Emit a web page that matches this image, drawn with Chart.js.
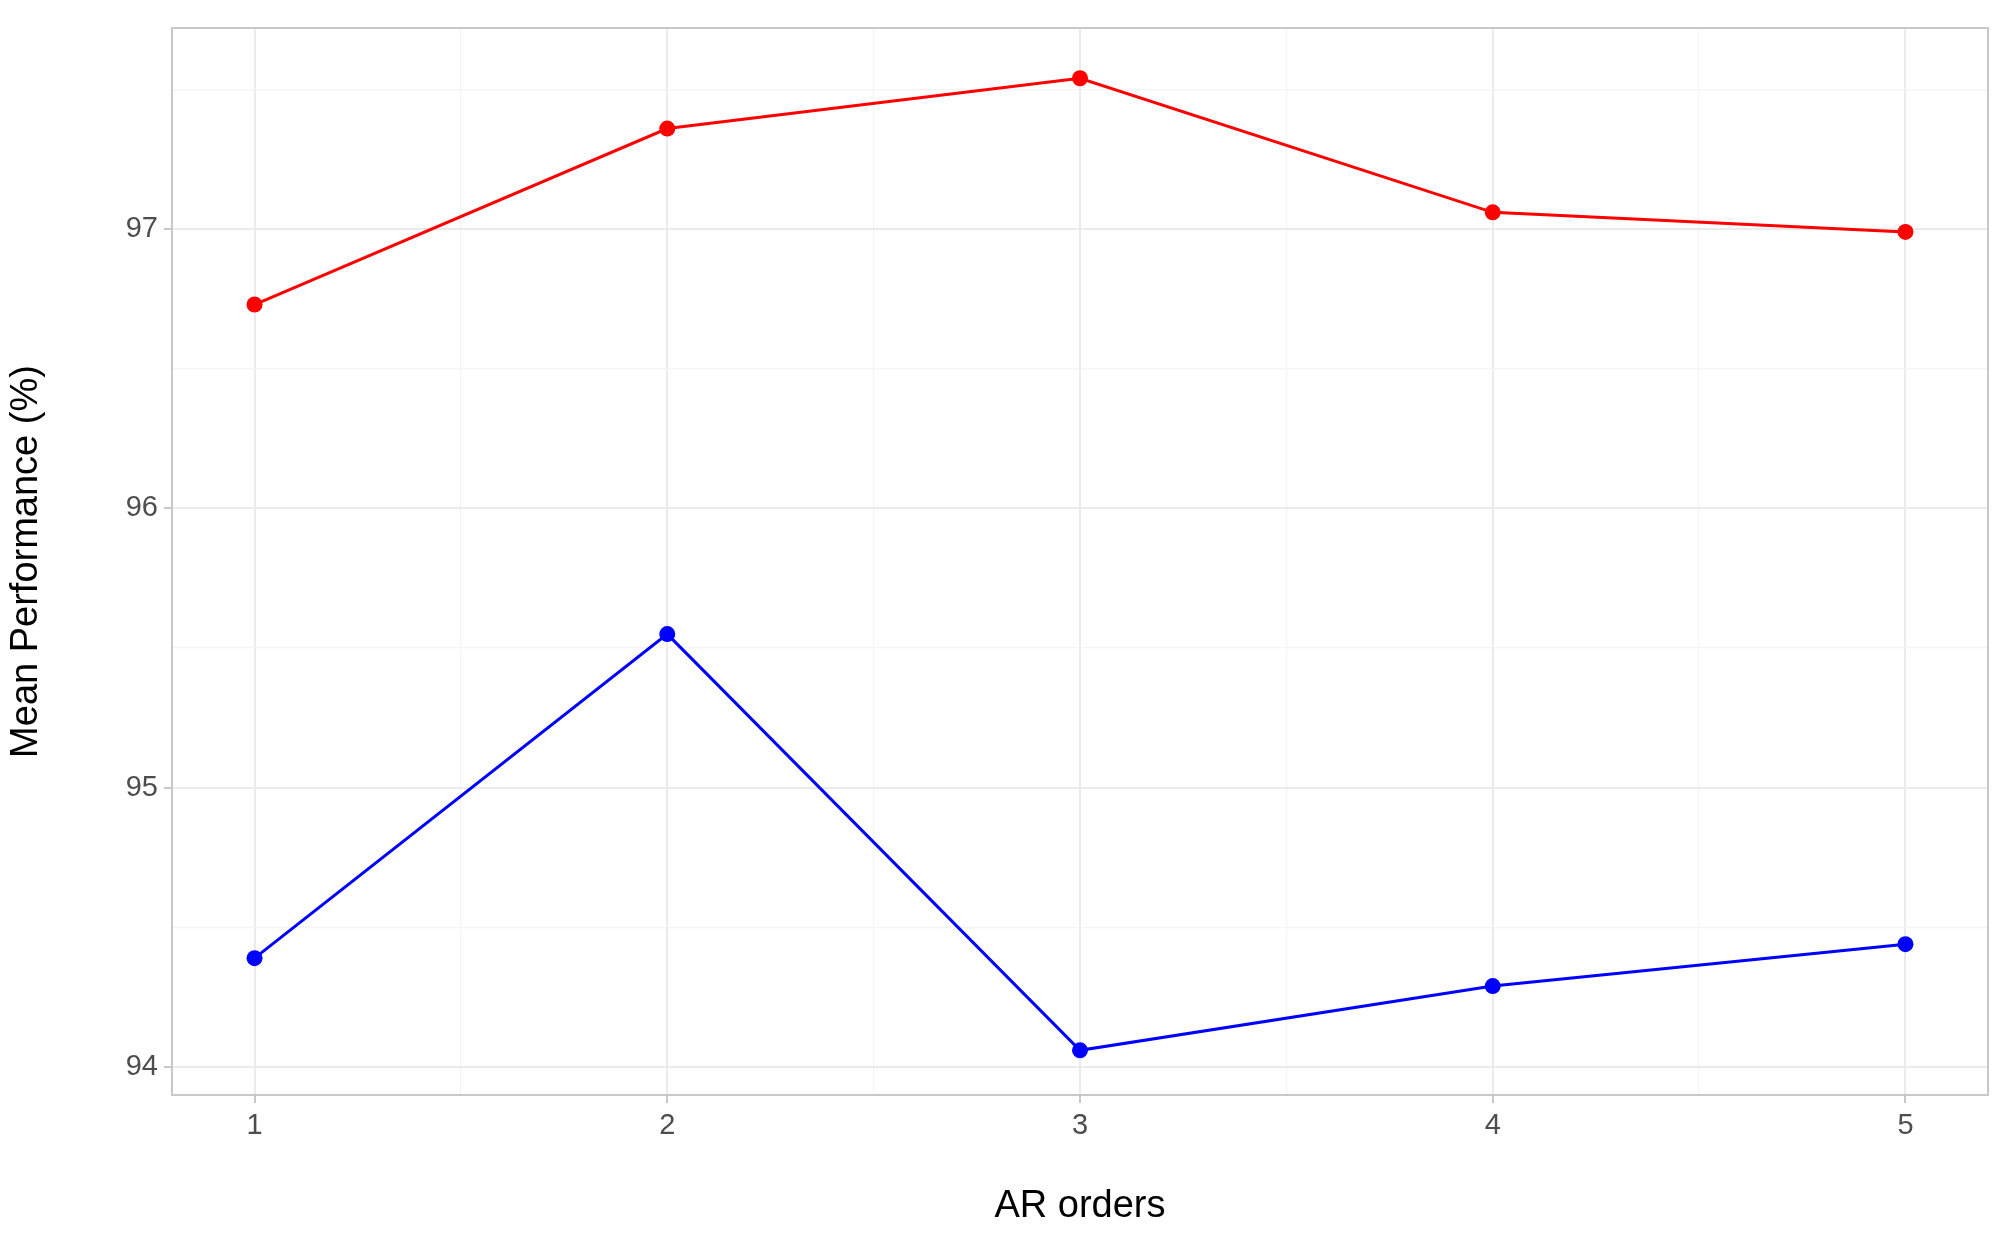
<!DOCTYPE html>
<html>
<head>
<meta charset="utf-8">
<script src="https://cdn.jsdelivr.net/npm/chart.js@4"></script>
<style>
  html, body { margin: 0; padding: 0; background: #fff; }
</style>
</head>
<body>
<canvas id="c" width="2014" height="1233"></canvas>
<script>
// AR order values and the two series
const arOrders = [1, 2, 3, 4, 5];
const redSeries = [96.73, 97.36, 97.54, 97.06, 96.99];
const blueSeries = [94.39, 95.55, 94.06, 94.29, 94.44];
const yTicks = [94, 95, 96, 97];

const toPoints = vals => arOrders.map((x, i) => ({ x: x, y: vals[i] }));

// panel frame like ggplot's theme_light
const panelBorder = {
  id: 'panelBorder',
  afterDraw(chart) {
    const a = chart.chartArea, ctx = chart.ctx;
    ctx.save();
    ctx.strokeStyle = '#c8c8c8';
    ctx.lineWidth = 2;
    ctx.strokeRect(a.left, a.top, a.right - a.left, a.bottom - a.top);
    ctx.restore();
  }
};

const isMajor = v => Math.abs(v - Math.round(v)) < 1e-6;

new Chart(document.getElementById('c').getContext('2d'), {
  type: 'line',
  data: {
    datasets: [
      { data: toPoints(redSeries), borderColor: '#ff0000', backgroundColor: '#ff0000',
        borderWidth: 3, pointRadius: 8, pointBorderWidth: 0 },
      { data: toPoints(blueSeries), borderColor: '#0000ff', backgroundColor: '#0000ff',
        borderWidth: 3, pointRadius: 8, pointBorderWidth: 0 }
    ]
  },
  plugins: [panelBorder],
  options: {
    responsive: false,
    animation: false,
    devicePixelRatio: 1,
    layout: { padding: { top: 28, right: 26, left: 0, bottom: 0 } },
    plugins: { legend: { display: false }, tooltip: { enabled: false } },
    scales: {
      x: {
        type: 'linear', min: 0.8, max: 5.2,
        afterBuildTicks: s => { s.ticks = [1, 1.5, 2, 2.5, 3, 3.5, 4, 4.5, 5].map(v => ({ value: v })); },
        afterFit: s => { s.height = 138; },
        ticks: {
          font: { family: 'Liberation Sans', size: 29 }, color: '#4d4d4d',
          callback: v => isMajor(v) ? String(v) : '', maxRotation: 0, autoSkip: false, padding: 6
        },
        grid: {
          color: c => isMajor(c.tick.value) ? '#ebebeb' : '#f4f4f4',
          lineWidth: c => isMajor(c.tick.value) ? 2 : 1.2,
          tickColor: c => isMajor(c.tick.value) ? '#c8c8c8' : 'rgba(0,0,0,0)',
          tickLength: 8, drawTicks: true
        },
        border: { display: false },
        title: { display: true, text: 'AR orders', color: '#000',
          font: { family: 'Liberation Sans', size: 38 }, padding: { top: 2 } }
      },
      y: {
        min: 93.9, max: 97.72,
        afterBuildTicks: s => { s.ticks = [94, 94.5, 95, 95.5, 96, 96.5, 97, 97.5].map(v => ({ value: v })); },
        afterFit: s => { s.width = 172; },
        ticks: {
          font: { family: 'Liberation Sans', size: 29 }, color: '#4d4d4d',
          callback: v => yTicks.includes(v) ? String(v) : '', autoSkip: false, padding: 6
        },
        grid: {
          color: c => isMajor(c.tick.value) ? '#ebebeb' : '#f4f4f4',
          lineWidth: c => isMajor(c.tick.value) ? 2 : 1.2,
          tickColor: c => isMajor(c.tick.value) ? '#c8c8c8' : 'rgba(0,0,0,0)',
          tickLength: 8
        },
        border: { display: false },
        title: { display: true, text: 'Mean Performance (%)', color: '#000',
          font: { family: 'Liberation Sans', size: 38 }, padding: { bottom: 4 } }
      }
    }
  }
});
</script>
</body>
</html>
